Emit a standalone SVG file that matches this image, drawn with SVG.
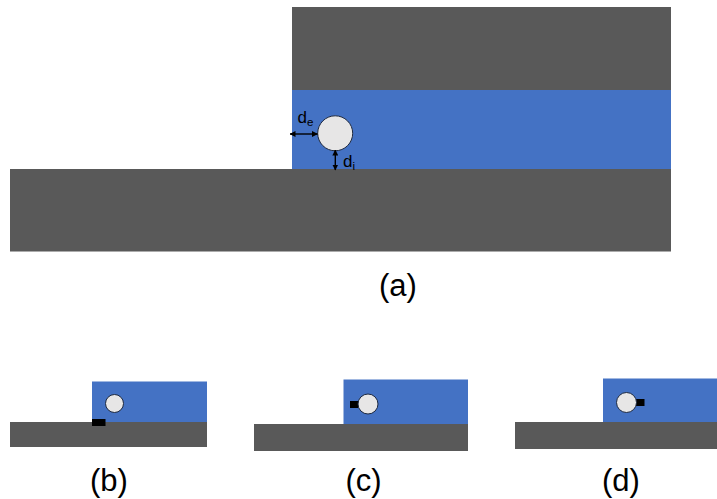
<svg xmlns="http://www.w3.org/2000/svg" width="717" height="499" viewBox="0 0 717 499">
<style>
.g{fill:#595959}
.b{fill:#4472c4}
.c{fill:#e7e6e6;stroke:#1f2a40;stroke-width:1}
.k{fill:#000}
.t{font-family:"Liberation Sans",Arial,sans-serif;fill:#000}
.cap{font-size:31px;text-anchor:middle}
.lab{font-size:17px}
.sub{font-size:11.500px}
.l{stroke:#000;stroke-width:1.4;fill:none;marker-start:url(#a);marker-end:url(#a)}
</style>
<defs>
<marker id="a" viewBox="0 0 6 6" refX="5.500" refY="3" markerWidth="6" markerHeight="6" markerUnits="userSpaceOnUse" orient="auto-start-reverse"><path d="M0 0L6 3L0 6Z" fill="#000"/></marker>
</defs>
<rect width="717" height="499" fill="#fff"/>
<g id="panel-a">
<rect class="g" x="292" y="7" width="379" height="83"/>
<rect class="b" x="292" y="90" width="379" height="79"/>
<rect class="g" x="10" y="169" width="661" height="82.500"/>
<circle class="c" cx="335.200" cy="133.300" r="17.500"/>
<text class="t cap" x="398" y="296">(a)</text>
<text class="t lab" x="297.500" y="123">d<tspan class="sub" dy="3">e</tspan></text>
<text class="t lab" x="343" y="167">d<tspan class="sub" dy="3">i</tspan></text>
</g>
<g id="connectors">
<line class="l" x1="290" y1="134" x2="317.500" y2="134"/>
<line class="l" x1="335.300" y1="150" x2="335.300" y2="170"/>
</g>
<g id="panel-b">
<rect class="b" x="92" y="381.500" width="115" height="40.500"/>
<rect class="g" x="10" y="422" width="197" height="25"/>
<circle class="c" cx="114.500" cy="403.500" r="9"/>
<rect class="k" x="92" y="419" width="13.500" height="7"/>
<text class="t cap" x="109" y="491">(b)</text>
</g>
<g id="panel-c">
<rect class="b" x="343.500" y="379.500" width="124.500" height="44.500"/>
<rect class="g" x="254" y="424" width="214" height="27"/>
<rect class="k" x="350" y="401" width="8.500" height="7"/>
<circle class="c" cx="368" cy="404" r="10"/>
<text class="t cap" x="363.500" y="491">(c)</text>
</g>
<g id="panel-d">
<rect class="b" x="603" y="378.500" width="114" height="43.500"/>
<rect class="g" x="515" y="422" width="202" height="27"/>
<rect class="k" x="636" y="399" width="8.500" height="7"/>
<circle class="c" cx="626.500" cy="402.500" r="10"/>
<text class="t cap" x="621" y="491">(d)</text>
</g>
</svg>
